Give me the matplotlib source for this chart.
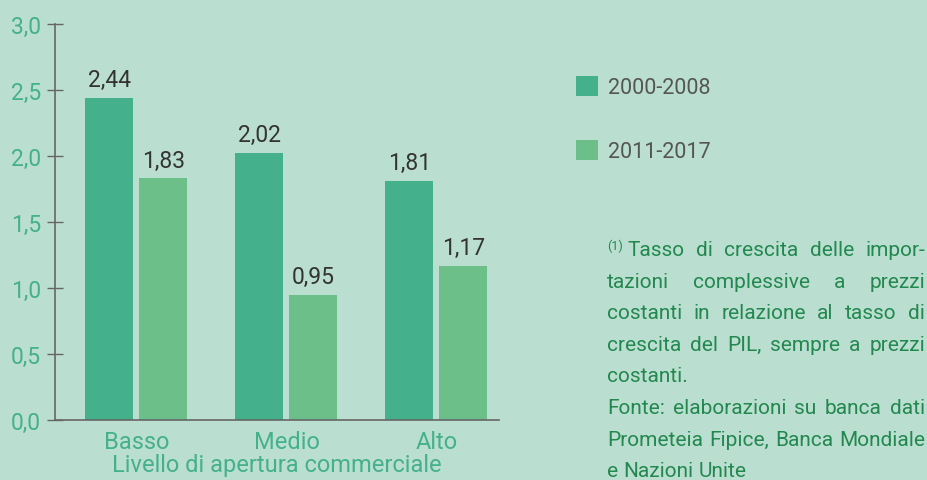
import numpy as np
import matplotlib.pyplot as plt
from matplotlib.ticker import FuncFormatter

plt.rcParams['font.family'] = ['Roboto', 'DejaVu Sans']

categories = ['Basso', 'Medio', 'Alto']
series_labels = ['2000-2008', '2011-2017']
vals_2000_2008 = [2.44, 2.02, 1.81]
vals_2011_2017 = [1.83, 0.95, 1.17]
yticks = [0.0, 0.5, 1.0, 1.5, 2.0, 2.5, 3.0]
xlabel = 'Livello di apertura commerciale'

# note lines: (words, justified?)
note_mark = '(1)'
note_lines = [
    (['Tasso', 'di', 'crescita', 'delle', 'impor-'], True),
    (['tazioni', 'complessive', 'a', 'prezzi'], True),
    (['costanti', 'in', 'relazione', 'al', 'tasso', 'di'], True),
    (['crescita', 'del', 'PIL,', 'sempre', 'a', 'prezzi'], True),
    (['costanti.'], False),
    (['Fonte:', 'elaborazioni', 'su', 'banca', 'dati'], True),
    (['Prometeia', 'Fipice,', 'Banca', 'Mondiale'], True),
    (['e', 'Nazioni', 'Unite'], False),
]

bg = '#badfd0'
dark = '#45b08c'
light = '#6dbf8a'
tick_col = '#45b08c'
note_col = '#23884f'
label_col = '#333333'

fig = plt.figure(figsize=(9.28, 4.81), dpi=100, facecolor=bg)
ax = fig.add_axes([55 / 928, 60 / 481, 444 / 928, 396 / 481], facecolor=bg)

x = np.arange(len(categories))
w = 0.32
b1 = ax.bar(x - 0.18, vals_2000_2008, w, color=dark, label=series_labels[0])
b2 = ax.bar(x + 0.18, vals_2011_2017, w, color=light, label=series_labels[1])

fmt = lambda v: f'{v:.2f}'.replace('.', ',')
for bars, vals in [(b1, vals_2000_2008), (b2, vals_2011_2017)]:
    ax.bar_label(bars, labels=[fmt(v) for v in vals], padding=5,
                 fontsize=16.5, color=label_col)

ax.set_xlim(-0.543, 2.417)
ax.set_ylim(0, 3)
ax.set_yticks(yticks)
ax.yaxis.set_major_formatter(FuncFormatter(lambda v, p: f'{v:.1f}'.replace('.', ',')))
ax.set_xticks(x)
ax.set_xticklabels(categories)
ax.tick_params(axis='y', direction='inout', length=12, width=1, color='#666666',
               labelsize=16.5, labelcolor=tick_col, pad=4)
ax.tick_params(axis='x', length=0, labelsize=17, labelcolor=tick_col, pad=7)
ax.set_xlabel(xlabel, fontsize=17, color=tick_col, labelpad=0)

for s in ['top', 'right']:
    ax.spines[s].set_visible(False)
for s in ['left', 'bottom']:
    ax.spines[s].set_color('#666666')
    ax.spines[s].set_linewidth(1.2)

fig.legend(handles=[b1, b2], loc='upper left', bbox_to_anchor=(557 / 928, 1 - 58 / 481),
           frameon=False, fontsize=15.5, labelcolor='#555555',
           handlelength=1.0, handleheight=1.0, handletextpad=0.45, labelspacing=1.95)

# justified note text
renderer = fig.canvas.get_renderer()
x0, x1 = 607, 925
fs = 15
y_first = 256
line_gap = 31.6
for i, (words, justify) in enumerate(note_lines):
    y = 481 - (y_first + i * line_gap)
    left = x0
    if i == 0:
        t = fig.text(x0 / 928, (y + 6) / 481, note_mark, fontsize=9, color=note_col,
                     va='baseline', ha='left')
        left = x0 + t.get_window_extent(renderer).width + 5
    texts = [fig.text(0, y / 481, wd, fontsize=fs, color=note_col, va='baseline', ha='left')
             for wd in words]
    widths = [t.get_window_extent(renderer).width for t in texts]
    if justify and len(words) > 1:
        gap = (x1 - left - sum(widths)) / (len(words) - 1)
    else:
        gap = fs * 100 / 72 * 0.25
    pos = left
    for t, wd in zip(texts, widths):
        t.set_x(pos / 928)
        pos += wd + gap

fig.savefig('out.png', dpi=100, facecolor=bg)
